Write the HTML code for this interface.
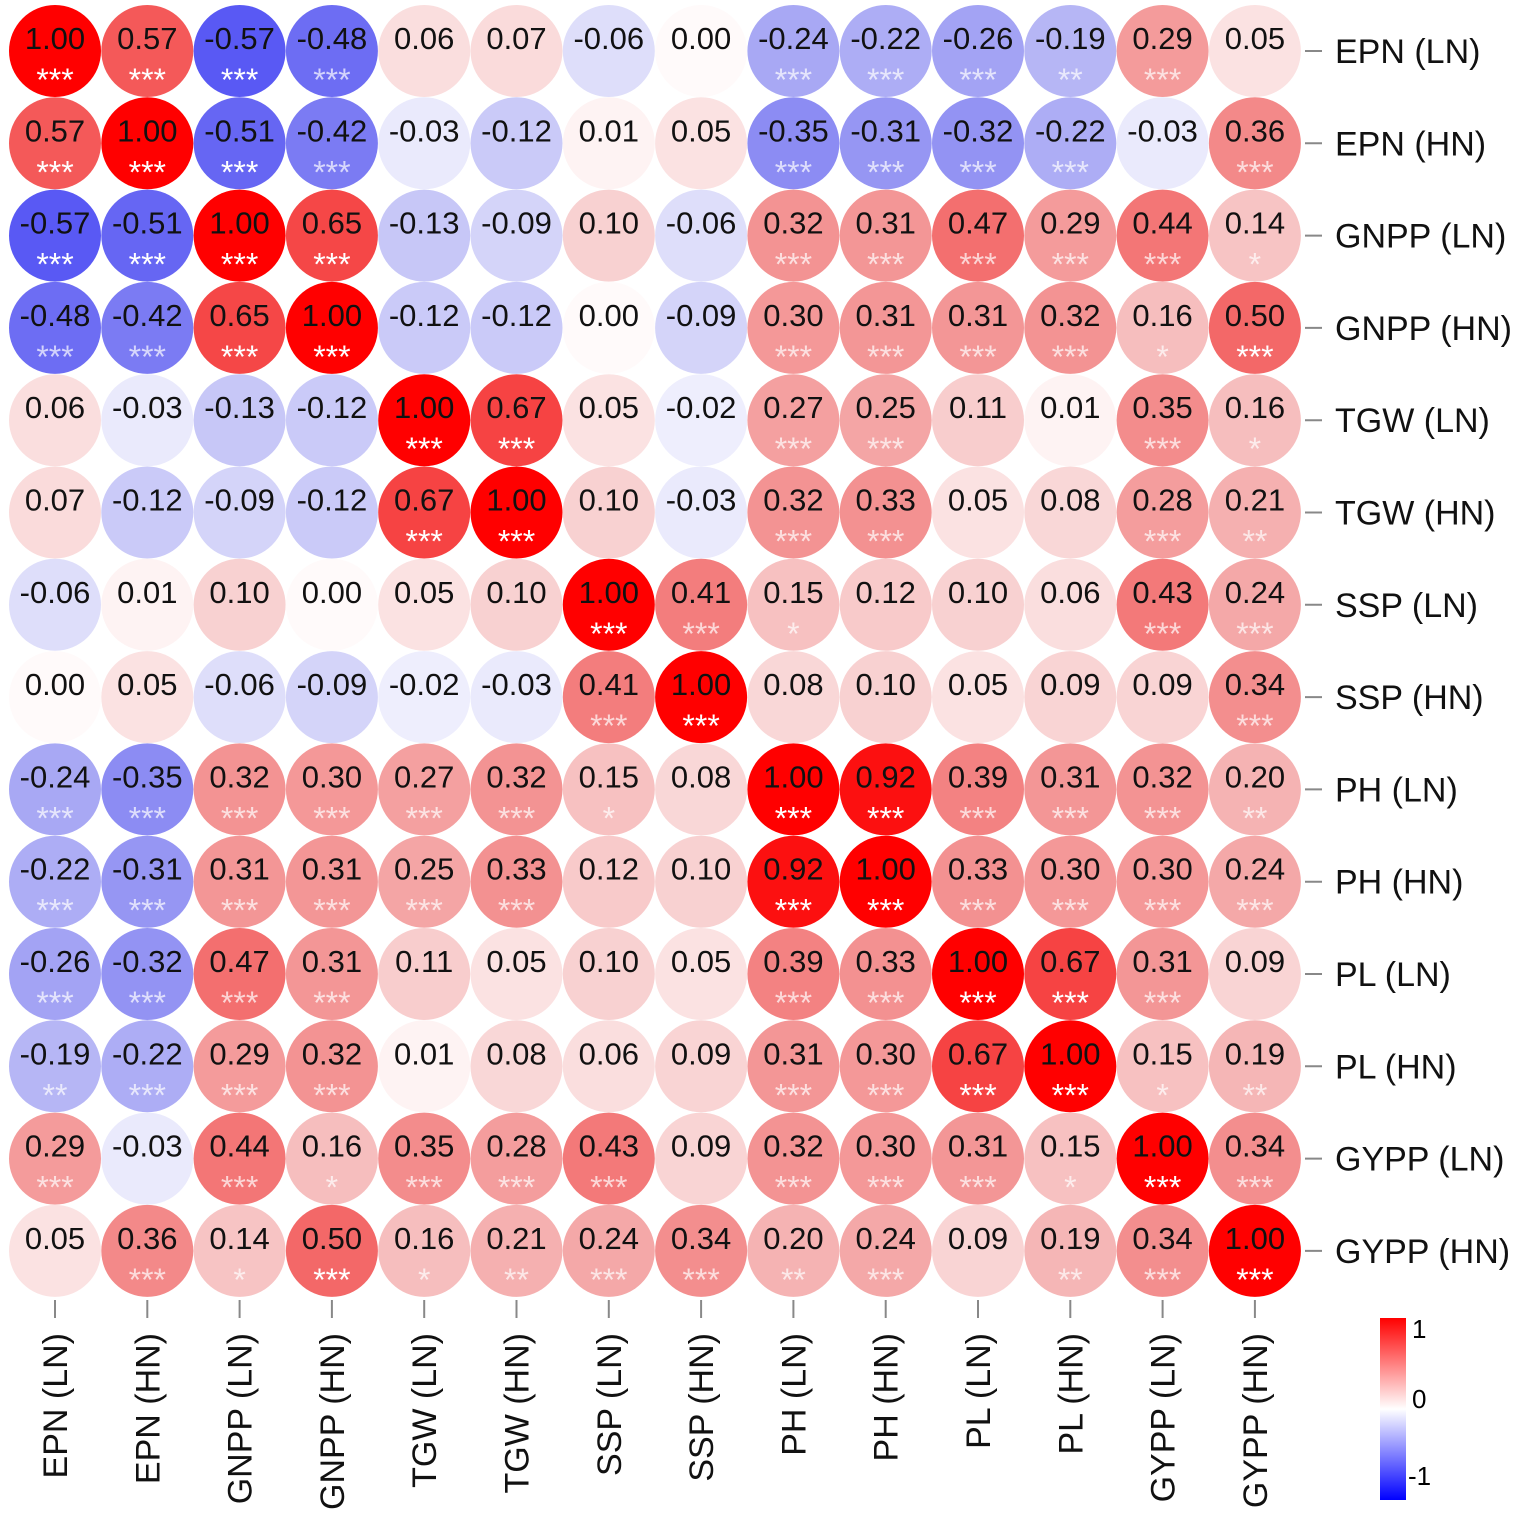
<!DOCTYPE html>
<html><head><meta charset="utf-8"><style>
body{margin:0;background:#fff;}
svg{display:block;font-family:"Liberation Sans",Arial,sans-serif;}
</style></head><body>
<svg id="chart" width="1535" height="1533">
<defs><linearGradient id="cb" x1="0" y1="0" x2="0" y2="1">
<stop offset="0" stop-color="#ff0000"/><stop offset="0.5" stop-color="#ffffff"/><stop offset="1" stop-color="#0000ff"/></linearGradient></defs>
<g id="cells"></g>
<g id="ylab"></g>
<g id="xlab"></g>
<g>
<rect x="1380" y="1318" width="26" height="182" fill="url(#cb)"/>
<text x="1412" y="1338" font-size="26">1</text>
<text x="1412" y="1408" font-size="26">0</text>
<text x="1408" y="1485" font-size="26">-1</text>
</g>
</svg>
<script>
const labels=["EPN (LN)","EPN (HN)","GNPP (LN)","GNPP (HN)","TGW (LN)","TGW (HN)","SSP (LN)","SSP (HN)","PH (LN)","PH (HN)","PL (LN)","PL (HN)","GYPP (LN)","GYPP (HN)"];
const r0=[1.00,0.57,-0.57,-0.48,0.06,0.07,-0.06,0.00,-0.24,-0.22,-0.26,-0.19,0.29,0.05];
const r1=[0.57,1.00,-0.51,-0.42,-0.03,-0.12,0.01,0.05,-0.35,-0.31,-0.32,-0.22,-0.03,0.36];
const r2=[-0.57,-0.51,1.00,0.65,-0.13,-0.09,0.10,-0.06,0.32,0.31,0.47,0.29,0.44,0.14];
const r3=[-0.48,-0.42,0.65,1.00,-0.12,-0.12,0.00,-0.09,0.30,0.31,0.31,0.32,0.16,0.50];
const r4=[0.06,-0.03,-0.13,-0.12,1.00,0.67,0.05,-0.02,0.27,0.25,0.11,0.01,0.35,0.16];
const r5=[0.07,-0.12,-0.09,-0.12,0.67,1.00,0.10,-0.03,0.32,0.33,0.05,0.08,0.28,0.21];
const r6=[-0.06,0.01,0.10,0.00,0.05,0.10,1.00,0.41,0.15,0.12,0.10,0.06,0.43,0.24];
const r7=[0.00,0.05,-0.06,-0.09,-0.02,-0.03,0.41,1.00,0.08,0.10,0.05,0.09,0.09,0.34];
const r8=[-0.24,-0.35,0.32,0.30,0.27,0.32,0.15,0.08,1.00,0.92,0.39,0.31,0.32,0.20];
const r9=[-0.22,-0.31,0.31,0.31,0.25,0.33,0.12,0.10,0.92,1.00,0.33,0.30,0.30,0.24];
const r10=[-0.26,-0.32,0.47,0.31,0.11,0.05,0.10,0.05,0.39,0.33,1.00,0.67,0.31,0.09];
const r11=[-0.19,-0.22,0.29,0.32,0.01,0.08,0.06,0.09,0.31,0.30,0.67,1.00,0.15,0.19];
const r12=[0.29,-0.03,0.44,0.16,0.35,0.28,0.43,0.09,0.32,0.30,0.31,0.15,1.00,0.34];
const r13=[0.05,0.36,0.14,0.50,0.16,0.21,0.24,0.34,0.20,0.24,0.09,0.19,0.34,1.00];
const rows=[r0,r1,r2,r3,r4,r5,r6,r7,r8,r9,r10,r11,r12,r13];
const NS="http://www.w3.org/2000/svg";
const x0=55,y0=51,step=92.3,rad=46;
const xs=i=>x0+i*step, ys=i=>y0+i*step;
function color(v){const t=Math.pow(Math.min(1,Math.abs(v)),0.78);const c=Math.round(250*(1-t));const h=Math.round(255-12*t*(1-t)*4);return v>=0?`rgb(${h},${c},${c})`:`rgb(${c},${c},${h})`;}
function stars(v){const a=Math.abs(v);return a>=0.22?"***":a>=0.19?"**":a>=0.14?"*":"";}
function mk(tag,attrs,parent,txt){const e=document.createElementNS(NS,tag);for(const k in attrs)e.setAttribute(k,attrs[k]);if(txt!==undefined)e.textContent=txt;parent.appendChild(e);return e;}
const cells=document.getElementById('cells');
rows.forEach((row,r)=>row.forEach((v,c)=>{
  const g=mk('g',{},cells);
  
  
  mk('circle',{cx:xs(c),cy:ys(r),r:rad,fill:color(v)},g);
  const t=mk('text',{x:xs(c),y:ys(r)-2,'text-anchor':'middle','font-size':31,fill:'#111'},g,v.toFixed(2));
  
  
  const s=stars(v);
  if(s){const st=mk('text',{x:xs(c),y:ys(r)+40,'text-anchor':'middle','font-size':32,fill:'#fff','fill-opacity':Math.abs(v)>=0.5?1:0.7},g,s);
  
  }
}));
const yl=document.getElementById('ylab'),xl=document.getElementById('xlab');
labels.forEach((l,i)=>{
  mk('line',{x1:1305,x2:1322,y1:ys(i),y2:ys(i),stroke:'#888','stroke-width':2},yl);
  const t=mk('text',{x:1335,y:ys(i)+12,'font-size':34,fill:'#111'},yl,l);
  
  
  mk('line',{x1:xs(i),x2:xs(i),y1:1300,y2:1318,stroke:'#888','stroke-width':2},xl);
  const u=mk('text',{x:0,y:0,'font-size':34,fill:'#111','text-anchor':'end',transform:`translate(${xs(i)+12},1333) rotate(-90)`},xl,l);
  
  
});
</script>
</body></html>
